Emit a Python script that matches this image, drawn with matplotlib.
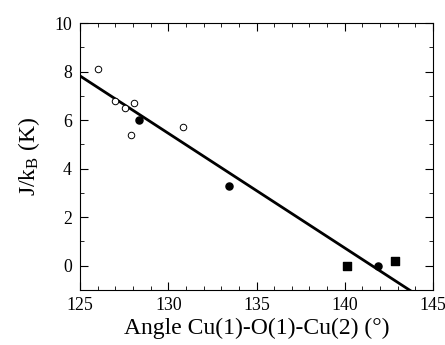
import numpy as np
import matplotlib
matplotlib.use("Agg")
import matplotlib.pyplot as plt
from matplotlib.ticker import MultipleLocator

plt.rcParams['font.family'] = ['Liberation Serif', 'DejaVu Serif']
plt.rcParams['mathtext.fontset'] = 'stix'

# data
open_x = [126.0, 126.95, 127.55, 128.05, 127.9, 130.85]
open_y = [8.1, 6.8, 6.5, 6.7, 5.4, 5.7]
filled_x = [128.35, 133.45, 141.9]
filled_y = [6.0, 3.3, 0.0]
square_x = [140.1, 142.85]
square_y = [0.0, 0.2]

# linear fit line
fit_slope = -0.473
fit_intercept_125 = 7.82

fig = plt.figure(figsize=(4.45, 3.45), dpi=100)
ax = fig.add_axes([0.18, 0.16, 0.793, 0.773])

xl = np.array([125, 145])
ax.plot(xl, fit_intercept_125 + fit_slope * (xl - 125), color='black', lw=2, zorder=2)

ax.scatter(open_x, open_y, s=22, facecolors='white', edgecolors='black', linewidths=0.7, zorder=3)
ax.scatter(filled_x, filled_y, s=26, color='black', zorder=3)
ax.scatter(square_x, square_y, s=28, marker='s', color='black', zorder=3)

ax.set_xlim(125, 145)
ax.set_ylim(-1, 10)
ax.xaxis.set_major_locator(MultipleLocator(5))
ax.xaxis.set_minor_locator(MultipleLocator(1))
ax.yaxis.set_major_locator(MultipleLocator(2))
ax.yaxis.set_minor_locator(MultipleLocator(1))
ax.tick_params(which='both', direction='in', top=True, right=True, labelsize=12.8)
ax.tick_params(which='major', length=6)
ax.tick_params(which='minor', length=3)
ax.tick_params(axis='x', pad=5)
ax.tick_params(axis='y', pad=6)

ax.set_xlabel('Angle Cu(1)-O(1)-Cu(2) (°)', fontsize=17, labelpad=3)
ax.set_ylabel('J/k$_\\mathregular{B}$ (K)', fontsize=17, labelpad=9)

fig.savefig('out.png', dpi=100)
